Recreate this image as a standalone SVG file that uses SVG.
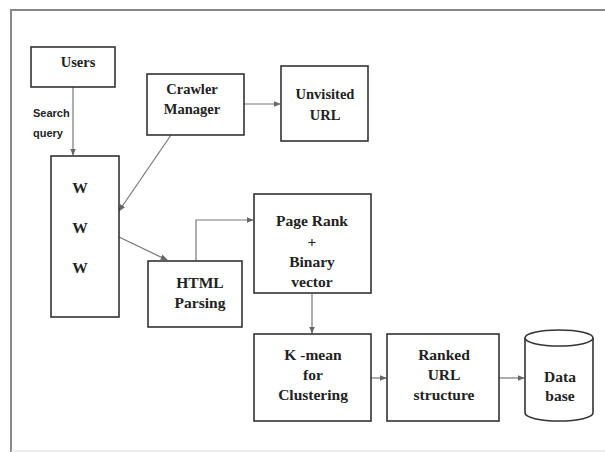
<svg xmlns="http://www.w3.org/2000/svg" width="605" height="452" viewBox="0 0 605 452">
<style>
.box{fill:#fff;stroke:#333;stroke-width:1.6}
.t{font-family:"Liberation Serif",serif;font-weight:bold;font-size:15.5px;fill:#222;text-anchor:middle}
.u{font-size:14.5px}
.s{font-family:"Liberation Sans",sans-serif;font-weight:bold;font-size:11px;fill:#222}
.c{fill:none;stroke:#777;stroke-width:1.2}
</style>
<defs>
<marker id="ah" viewBox="0 0 10 10" refX="9" refY="5" markerWidth="6" markerHeight="6" orient="auto-start-reverse">
<path d="M0,1 L10,5 L0,9 z" fill="#666"/>
</marker>
</defs>
<rect width="605" height="452" fill="#fff"/>
<g id="frame">
<line x1="10" y1="10" x2="605" y2="10" stroke="#888" stroke-width="2"/>
<line x1="11" y1="9" x2="11" y2="452" stroke="#888" stroke-width="2"/>
<line x1="11" y1="451" x2="605" y2="451" stroke="#ddd" stroke-width="1"/>
</g>
<g id="connectors">
<line class="c" x1="73" y1="87" x2="73" y2="155" marker-end="url(#ah)"/>
<line class="c" x1="244" y1="104" x2="280" y2="104" marker-end="url(#ah)"/>
<line class="c" x1="171" y1="135" x2="119" y2="211" marker-end="url(#ah)"/>
<line class="c" x1="119" y1="237" x2="167" y2="260" marker-end="url(#ah)"/>
<polyline class="c" points="196,261 196,220 253,220" marker-end="url(#ah)"/>
<line class="c" x1="312" y1="294" x2="312" y2="333" marker-end="url(#ah)"/>
<line class="c" x1="371" y1="378" x2="386" y2="378" marker-end="url(#ah)"/>
<line class="c" x1="499" y1="378" x2="524" y2="378" marker-end="url(#ah)"/>
</g>
<text class="s" x="33" y="117">Search</text>
<text class="s" x="33" y="137">query</text>
<g id="users">
<rect class="box" x="31" y="47" width="84" height="40"/>
<text class="t u" x="78" y="67">Users</text>
</g>
<g id="crawler">
<rect class="box" x="147" y="74" width="97" height="61"/>
<text class="t u" x="192" y="94">Crawler</text>
<text class="t u" x="192" y="114">Manager</text>
</g>
<g id="unvisited">
<rect class="box" x="281" y="66" width="87" height="75"/>
<text class="t u" x="325" y="99">Unvisited</text>
<text class="t u" x="325" y="120">URL</text>
</g>
<g id="www">
<rect class="box" x="51" y="156" width="68" height="161"/>
<text class="t" x="80" y="193">W</text>
<text class="t" x="80" y="233">W</text>
<text class="t" x="80" y="273">W</text>
</g>
<g id="html">
<rect class="box" x="148" y="261" width="94" height="66"/>
<text class="t" x="200" y="288">HTML</text>
<text class="t" x="200" y="308">Parsing</text>
</g>
<g id="pagerank">
<rect class="box" x="254" y="194" width="117" height="99"/>
<text class="t" x="312" y="226">Page Rank</text>
<text class="t" x="312" y="247">+</text>
<text class="t" x="312" y="267">Binary</text>
<text class="t" x="312" y="287">vector</text>
</g>
<g id="kmean">
<rect class="box" x="254" y="334" width="117" height="87"/>
<text class="t" x="313" y="360">K -mean</text>
<text class="t" x="313" y="380">for</text>
<text class="t" x="313" y="400">Clustering</text>
</g>
<g id="ranked">
<rect class="box" x="387" y="334" width="112" height="87"/>
<text class="t" x="444" y="360">Ranked</text>
<text class="t" x="444" y="380">URL</text>
<text class="t" x="444" y="400">structure</text>
</g>
<g id="database">
<path class="box" d="M525,338 L525,413 A34,8 0 0 0 593,413 L593,338"/>
<ellipse class="box" cx="559" cy="338" rx="34" ry="8"/>
<text class="t" x="560" y="382">Data</text>
<text class="t" x="560" y="401">base</text>
</g>
</svg>
